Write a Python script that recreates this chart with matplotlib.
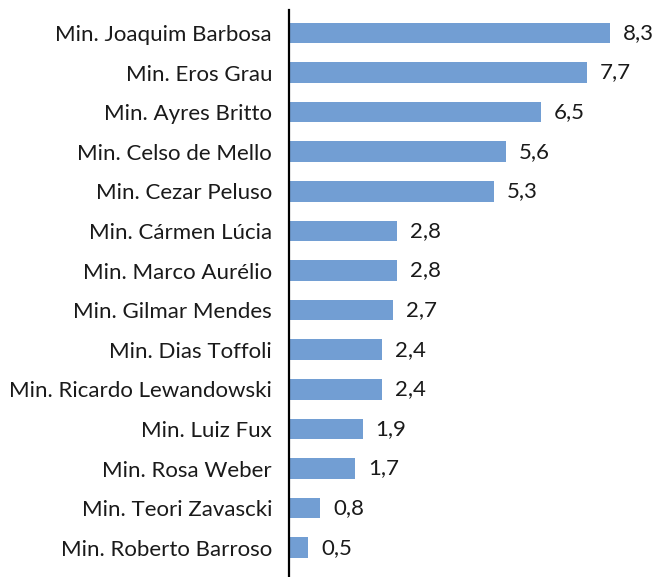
import matplotlib.pyplot as plt

ministers = [
    "Min. Joaquim Barbosa",
    "Min. Eros Grau",
    "Min. Ayres Britto",
    "Min. Celso de Mello",
    "Min. Cezar Peluso",
    "Min. Cármen Lúcia",
    "Min. Marco Aurélio",
    "Min. Gilmar Mendes",
    "Min. Dias Toffoli",
    "Min. Ricardo Lewandowski",
    "Min. Luiz Fux",
    "Min. Rosa Weber",
    "Min. Teori Zavascki",
    "Min. Roberto Barroso",
]
values = [8.3, 7.7, 6.5, 5.6, 5.3, 2.8, 2.8, 2.7, 2.4, 2.4, 1.9, 1.7, 0.8, 0.5]

plt.rcParams["font.family"] = ["Lato", "DejaVu Sans"]

fig = plt.figure(figsize=(6.54, 5.77), dpi=100)
ax = fig.add_axes([289 / 654, 0, 365 / 654, 567 / 577])

positions = list(range(len(values)))
ax.barh(positions, values, height=0.52, color="#729ed3")

# value labels, written with a decimal comma as in the source
for pos, val in zip(positions, values):
    ax.annotate(
        f"{val:.1f}".replace(".", ","),
        (val, pos),
        xytext=(13, 0),
        textcoords="offset pixels",
        va="center",
        ha="left",
        fontsize=16,
        color="#1a1a1a",
    )

ax.set_yticks(positions)
ax.set_yticklabels(ministers, fontsize=16, color="#1a1a1a")
ax.tick_params(axis="y", length=0, pad=17 * 72 / 100)
ax.set_xticks([])

ax.set_xlim(0, 365 / 38.7)
ax.set_ylim(13.74, -0.58)

for side in ["top", "right", "bottom"]:
    ax.spines[side].set_visible(False)
ax.spines["left"].set_linewidth(1.6)
ax.spines["left"].set_color("black")

fig.savefig("out.png", dpi=100)
